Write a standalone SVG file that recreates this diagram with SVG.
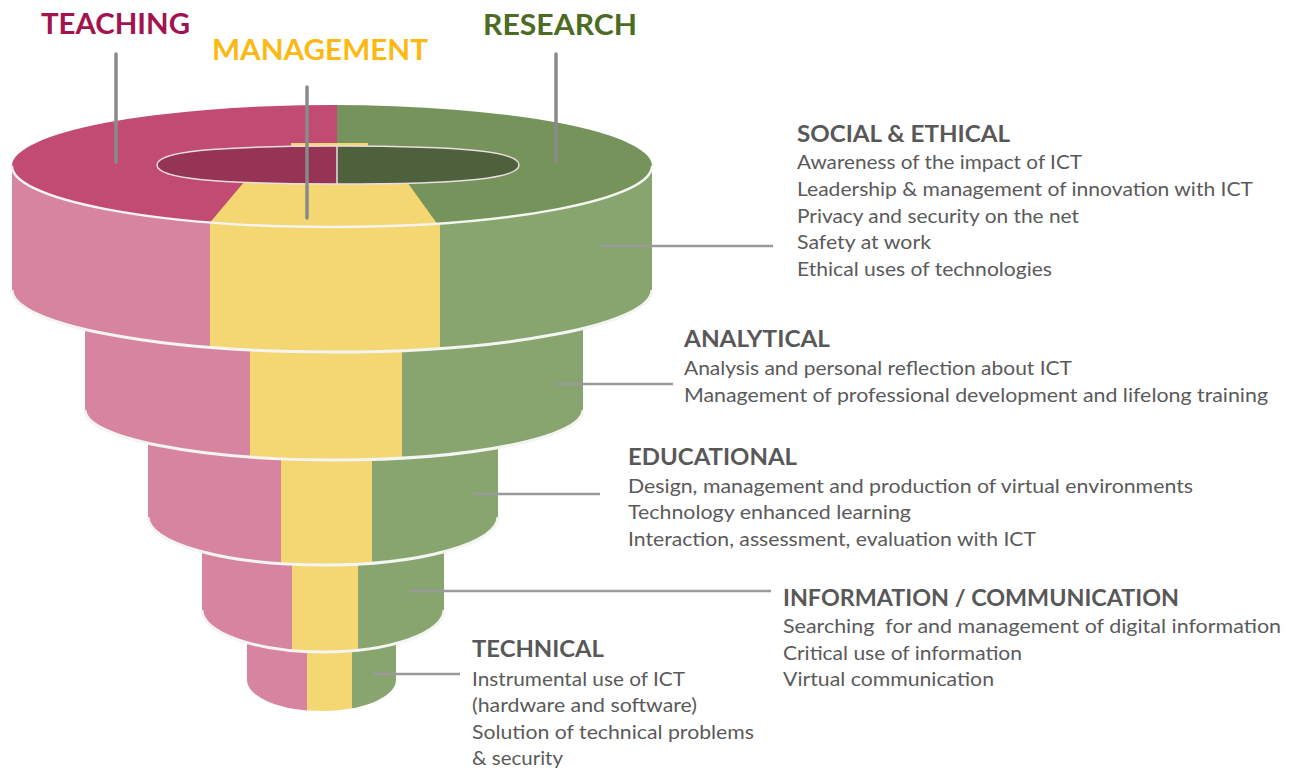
<svg xmlns="http://www.w3.org/2000/svg" width="1295" height="771" viewBox="0 0 1295 771">
<style>
.pk{fill:#d6849f}.yl{fill:#f4d672}.gn{fill:#88a570}
.sep{fill:none;stroke:#f4f4f1;stroke-width:3}
.vline{stroke:#8a8a8a;stroke-width:3.5;stroke-linecap:round}
.hline{stroke:#9a9a9a;stroke-width:2.5}
.top{font-family:Lato,"Open Sans",sans-serif;font-weight:700;font-size:29px}
.h{font-family:Lato,"Open Sans",sans-serif;font-weight:700;font-size:22px;fill:#585858}
.b{font-family:Lato,"Open Sans",sans-serif;font-size:19px;fill:#5a5a5a}
</style>
<defs>
<clipPath id="c1"><path d="M12,166 V290 A320,62 0 0 0 652,290 V166 Z"/></clipPath>
<clipPath id="c2"><path d="M85,300 V410 A249,50 0 0 0 583,410 V300 Z"/></clipPath>
<clipPath id="c3"><path d="M148,420 V517 A175,48 0 0 0 498,517 V420 Z"/></clipPath>
<clipPath id="c4"><path d="M202,525 V610 A121,42 0 0 0 444,610 V525 Z"/></clipPath>
<clipPath id="c5"><path d="M247,620 V680 A74.5,31 0 0 0 396,680 V620 Z"/></clipPath>
<clipPath id="ctop"><ellipse cx="332" cy="166" rx="320" ry="61"/></clipPath>
<clipPath id="chole"><path d="M157,165 C157,151.7 211.3,146 338,146 C464.7,146 519,151.7 519,165 C519,178.3 464.7,184 338,184 C211.3,184 157,178.3 157,165 Z"/></clipPath>
</defs>

<g id="funnel">
<g id="tier-technical" clip-path="url(#c5)">
<rect class="pk" x="240" y="615" width="67" height="110"/>
<rect class="yl" x="307" y="615" width="45" height="110"/>
<rect class="gn" x="352" y="615" width="50" height="110"/>
</g>
<g id="tier-information" clip-path="url(#c4)">
<rect class="pk" x="195" y="520" width="97" height="140"/>
<rect class="yl" x="292" y="520" width="66" height="140"/>
<rect class="gn" x="358" y="520" width="92" height="140"/>
</g>
<path class="sep" d="M202,610 A121,42 0 0 0 444,610"/>
<g id="tier-educational" clip-path="url(#c3)">
<rect class="pk" x="140" y="415" width="141" height="160"/>
<rect class="yl" x="281" y="415" width="91" height="160"/>
<rect class="gn" x="372" y="415" width="130" height="160"/>
</g>
<path class="sep" d="M148,517 A175,48 0 0 0 498,517"/>
<g id="tier-analytical" clip-path="url(#c2)">
<rect class="pk" x="80" y="295" width="170" height="170"/>
<rect class="yl" x="250" y="295" width="152" height="170"/>
<rect class="gn" x="402" y="295" width="185" height="170"/>
</g>
<path class="sep" d="M85,410 A249,50 0 0 0 583,410"/>
<g id="tier-social" clip-path="url(#c1)">
<rect class="pk" x="5" y="160" width="205" height="200"/>
<rect class="yl" x="210" y="160" width="230" height="200"/>
<rect class="gn" x="440" y="160" width="220" height="200"/>
</g>
<path class="sep" d="M12,290 A320,62 0 0 0 652,290"/>
<g id="top-surface">
<g clip-path="url(#ctop)">
<rect x="5" y="100" width="332" height="140" fill="#c24b73"/>
<rect x="337" y="100" width="320" height="140" fill="#76935b"/>
</g>
<path class="yl" d="M250,175 L402,175 L437,223.6 A320,61 0 0 1 210,222.4 Z"/>
<rect class="yl" x="291" y="143" width="77" height="3"/>
<g clip-path="url(#chole)">
<rect x="150" y="140" width="187" height="50" fill="#963456"/>
<rect x="337" y="140" width="190" height="50" fill="#4f603d"/>
</g>
<path d="M157,165 C157,151.7 211.3,146 338,146 C464.7,146 519,151.7 519,165 C519,178.3 464.7,184 338,184 C211.3,184 157,178.3 157,165 Z" fill="none" stroke="#eadde1" stroke-width="1.5"/>
<line x1="337" y1="146" x2="337" y2="184" stroke="#e6e0e2" stroke-width="1.5"/>
<path d="M12,166 A320,61 0 0 0 652,166" fill="none" stroke="#f4f4f1" stroke-width="2.5"/>
</g>
</g>

<g id="connectors">
<line class="vline" x1="116" y1="54" x2="116" y2="162"/>
<line class="vline" x1="307" y1="87" x2="307" y2="218"/>
<line class="vline" x1="556" y1="54" x2="556" y2="162"/>
<line class="hline" x1="600" y1="246" x2="773" y2="246"/>
<line class="hline" x1="557" y1="384" x2="673" y2="384"/>
<line class="hline" x1="473" y1="494" x2="600" y2="494"/>
<line class="hline" x1="410" y1="591" x2="771" y2="591"/>
<line class="hline" x1="373" y1="674" x2="460" y2="674"/>
</g>

<g id="node-teaching"><text class="top" x="41" y="34" fill="#a3134f" textLength="149" lengthAdjust="spacingAndGlyphs">TEACHING</text></g>
<g id="node-management"><text class="top" x="212" y="60" fill="#fdb913" textLength="216" lengthAdjust="spacingAndGlyphs">MANAGEMENT</text></g>
<g id="node-research"><text class="top" x="483" y="35" fill="#4d6b22" textLength="154" lengthAdjust="spacingAndGlyphs">RESEARCH</text></g>

<g id="node-social">
<text class="h" x="797" y="142" textLength="213" lengthAdjust="spacingAndGlyphs">SOCIAL &amp; ETHICAL</text>
<text class="b" x="797" y="169" textLength="285" lengthAdjust="spacingAndGlyphs">Awareness of the impact of ICT</text>
<text class="b" x="797" y="196" textLength="456" lengthAdjust="spacingAndGlyphs">Leadership &amp; management of innovation with ICT</text>
<text class="b" x="797" y="223" textLength="282" lengthAdjust="spacingAndGlyphs">Privacy and security on the net</text>
<text class="b" x="797" y="249" textLength="134" lengthAdjust="spacingAndGlyphs">Safety at work</text>
<text class="b" x="797" y="276" textLength="255" lengthAdjust="spacingAndGlyphs">Ethical uses of technologies</text>
</g>
<g id="node-analytical">
<text class="h" x="684" y="347" textLength="146" lengthAdjust="spacingAndGlyphs">ANALYTICAL</text>
<text class="b" x="684" y="375" textLength="388" lengthAdjust="spacingAndGlyphs">Analysis and personal reflection about ICT</text>
<text class="b" x="684" y="402" textLength="584" lengthAdjust="spacingAndGlyphs">Management of professional development and lifelong training</text>
</g>
<g id="node-educational">
<text class="h" x="628" y="465" textLength="169" lengthAdjust="spacingAndGlyphs">EDUCATIONAL</text>
<text class="b" x="628" y="493" textLength="565" lengthAdjust="spacingAndGlyphs">Design, management and production of virtual environments</text>
<text class="b" x="628" y="519" textLength="283" lengthAdjust="spacingAndGlyphs">Technology enhanced learning</text>
<text class="b" x="628" y="546" textLength="408" lengthAdjust="spacingAndGlyphs">Interaction, assessment, evaluation with ICT</text>
</g>
<g id="node-information">
<text class="h" x="783" y="606" textLength="396" lengthAdjust="spacingAndGlyphs">INFORMATION / COMMUNICATION</text>
<text class="b" x="783" y="633" textLength="498" lengthAdjust="spacingAndGlyphs" style="white-space:pre">Searching  for and management of digital information</text>
<text class="b" x="783" y="660" textLength="239" lengthAdjust="spacingAndGlyphs">Critical use of information</text>
<text class="b" x="783" y="686" textLength="211" lengthAdjust="spacingAndGlyphs">Virtual communication</text>
</g>
<g id="node-technical">
<text class="h" x="472" y="657" textLength="132" lengthAdjust="spacingAndGlyphs">TECHNICAL</text>
<text class="b" x="472" y="686" textLength="213" lengthAdjust="spacingAndGlyphs">Instrumental use of ICT</text>
<text class="b" x="472" y="712" textLength="225" lengthAdjust="spacingAndGlyphs">(hardware and software)</text>
<text class="b" x="472" y="739" textLength="282" lengthAdjust="spacingAndGlyphs">Solution of technical problems</text>
<text class="b" x="472" y="765" textLength="91" lengthAdjust="spacingAndGlyphs">&amp; security</text>
</g>
</svg>
